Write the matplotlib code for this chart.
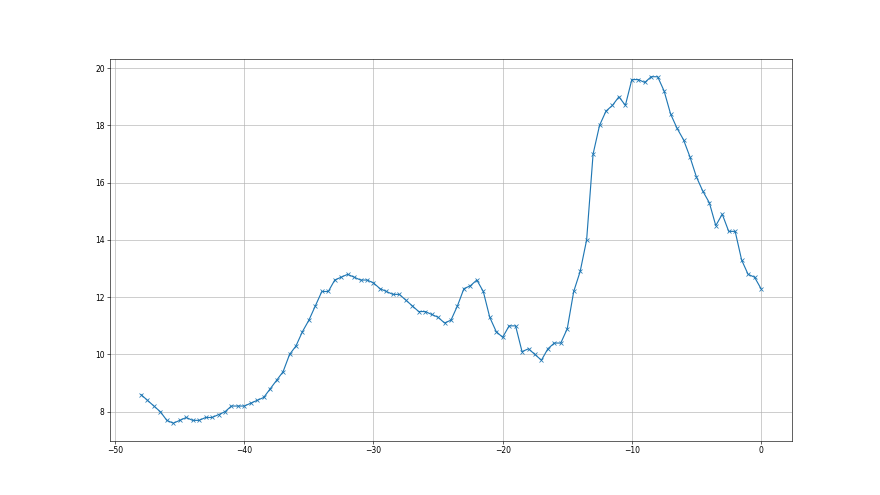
import numpy as np
import matplotlib
matplotlib.use("Agg")
import matplotlib.pyplot as plt

# x positions every half unit from -48 to 0
x_start = -48.0
x_step = 0.5

values = [
    8.6, 8.4, 8.2, 8.0, 7.7, 7.6, 7.7, 7.8, 7.7, 7.7,
    7.8, 7.8, 7.9, 8.0, 8.2, 8.2, 8.2, 8.3, 8.4, 8.5,
    8.8, 9.1, 9.4, 10.0, 10.3, 10.8, 11.2, 11.7, 12.2, 12.2,
    12.6, 12.7, 12.8, 12.7, 12.6, 12.6, 12.5, 12.3, 12.2, 12.1,
    12.1, 11.9, 11.7, 11.5, 11.5, 11.4, 11.3, 11.1, 11.2, 11.7,
    12.3, 12.4, 12.6, 12.2, 11.3, 10.8, 10.6, 11.0, 11.0, 10.1,
    10.2, 10.0, 9.8, 10.2, 10.4, 10.4, 10.9, 12.2, 12.9, 14.0,
    17.0, 18.0, 18.5, 18.7, 19.0, 18.7, 19.6, 19.6, 19.5, 19.7,
    19.7, 19.2, 18.4, 17.9, 17.5, 16.9, 16.2, 15.7, 15.3, 14.5,
    14.9, 14.3, 14.3, 13.3, 12.8, 12.7, 12.3,
]

x = x_start + x_step * np.arange(len(values))

fig, ax = plt.subplots(figsize=(16, 9), dpi=55)
ax.plot(x, values, marker="x")
ax.grid(True)

fig.savefig("out.png", dpi=55)
